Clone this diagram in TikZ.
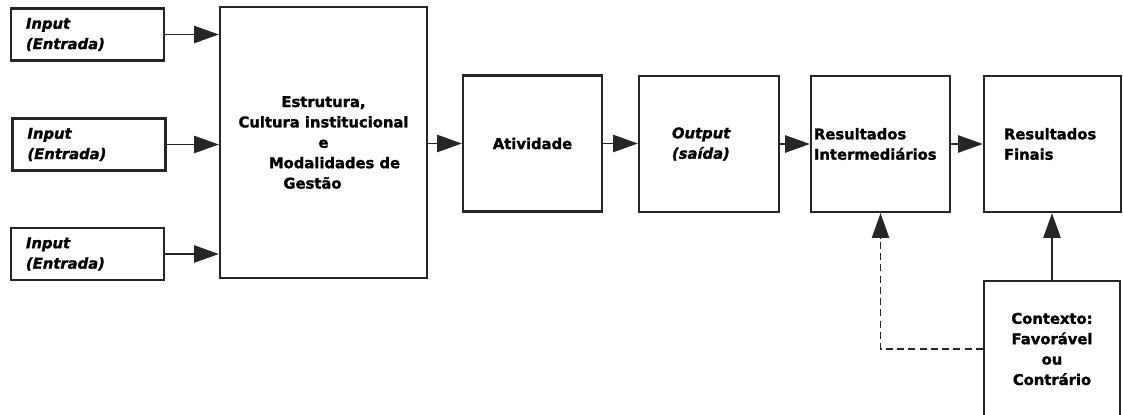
\documentclass[tikz,border=0pt]{standalone}
\usepackage{fontspec}
\setmainfont{DejaVu Sans}[BoldFeatures={FakeBold=1.5}, BoldItalicFeatures={FakeBold=1.5}]
\usetikzlibrary{arrows.meta}
\tikzset{
    flow-box/.style = {draw=black!85, fill=white, line width=1.6pt, rectangle, inner sep=0pt, font=\fontsize{10.5pt}{14.5pt}\selectfont\bfseries},
    input-box/.style = {flow-box, minimum width=3.825cm, minimum height=1.3cm, inner xsep=0.375cm, text width=3.075cm, align=left, font=\fontsize{10.5pt}{14.5pt}\selectfont\bfseries\itshape},
    stage-box/.style = {flow-box, minimum width=3.475cm, minimum height=3.4cm},
    flow-arrow/.style = {draw=black!85, line width=1.4pt, -{Triangle[length=0.62cm, width=0.43cm]}},
}

\begin{document}
\begin{tikzpicture}[x=0.025cm, y=-0.025cm]
\clip (0,0) rectangle (1123,414);
% entradas e estrutura
\node [input-box] (input-a) at (87.5,34.5) {Input\\(Entrada)};
\node [input-box] (input-b) at (89,144.5) {Input\\(Entrada)};
\node [input-box] (input-c) at (87.5,254) {Input\\(Entrada)};
\node [flow-box, minimum width=5.175cm, minimum height=6.775cm, align=center] (estrutura) at (323.5,142.5) {Estrutura,\\Cultura institucional\\e\\\hspace*{0.55cm}Modalidades de\\Gestão\hspace*{0.55cm}};
\draw [flow-arrow] (input-a.east) -- (input-a.east -| estrutura.west);
\draw [flow-arrow] (input-b.east) -- (input-b.east -| estrutura.west);
\draw [flow-arrow] (input-c.east) -- (input-c.east -| estrutura.west);
% etapas
\node [stage-box] (atividade) at (532.5,143.5) {Atividade};
\node [stage-box, inner xsep=0.825cm, text width=1.85cm, align=left, font=\fontsize{10.5pt}{14.5pt}\selectfont\bfseries\itshape] (output) at (709,144) {Output\\(saída)};
\node [stage-box, inner xsep=0.075cm, text width=3.325cm, align=left] (intermediarios) at (880.5,144) {Resultados\\Intermediários};
\node [stage-box, minimum width=3.425cm, inner xsep=0.5cm, text width=2.425cm, align=left] (finais) at (1052.5,144) {Resultados\\Finais};
\node [stage-box, minimum width=3.4cm, align=center] (contexto) at (1052,349) {Contexto:\\Favorável\\ou\\Contrário};
\draw [flow-arrow] (estrutura.east |- atividade.west) -- (atividade.west);
\draw [flow-arrow] (atividade.east) -- (atividade.east -| output.west);
\draw [flow-arrow] (output.east) -- (intermediarios.west);
\draw [flow-arrow] (intermediarios.east) -- (finais.west);
% contexto
\draw [flow-arrow] (contexto.north) -- (contexto.north |- finais.south);
\draw [flow-arrow, line width=1.2pt, dash pattern=on 5pt off 3pt] (contexto.west) -| (intermediarios.south);
\end{tikzpicture}
\end{document}
